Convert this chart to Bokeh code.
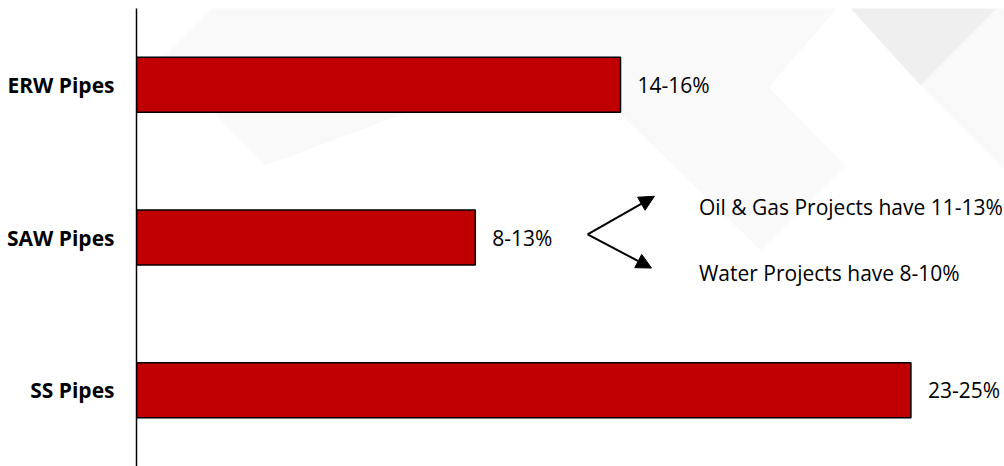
from bokeh.plotting import figure
from bokeh.models import Range1d, FixedTicker, Arrow, NormalHead
from bokeh.core.properties import value
from bokeh.embed import file_html
from bokeh.resources import INLINE

# ---- data ----
categories = ["ERW Pipes", "SAW Pipes", "SS Pipes"]
midpoints = [15.0, 10.5, 24.0]          # bar lengths (midpoint of range, %)
range_labels = ["14-16%", "8-13%", "23-25%"]
saw_split_labels = ["Oil & Gas Projects have 11-13%", "Water Projects have 8-10%"]

positions = [len(categories) - i for i in range(len(categories))]

X_MAX = 26.9
Y_MIN, Y_MAX = 0.5, 3.5
FRAME_LEFT, FRAME_TOP, FRAME_W, FRAME_H = 136, 8, 868, 458


# ---- faint background decoration (page pixels, converted to data units) ----
def px_to_data(pts):
    xs = [(px - FRAME_LEFT) / FRAME_W * X_MAX for px, _ in pts]
    ys = [Y_MAX - (py - FRAME_TOP) / FRAME_H * (Y_MAX - Y_MIN) for _, py in pts]
    return xs, ys


deco_light = [
    [(220, 0), (843, 0), (768, 87), (845, 165), (760, 250), (560, 55), (265, 165), (160, 60)],
    [(920, 85), (1000, 4), (1010, 4), (1010, 175)],
]
deco_dark = [[(843, 0), (1000, 0), (1000, 4), (920, 85)]]

p = figure(width=1004, height=466, output_backend="svg", toolbar_location=None,
           x_range=Range1d(0, X_MAX), y_range=Range1d(Y_MIN, Y_MAX),
           x_axis_location=None,
           min_border_left=FRAME_LEFT, min_border_right=0,
           min_border_top=FRAME_TOP, min_border_bottom=0)
p.outline_line_color = None
p.grid.visible = False
p.background_fill_color = "white"
p.border_fill_color = "white"

lx, ly = zip(*[px_to_data(poly) for poly in deco_light])
p.patches(list(lx), list(ly), fill_color="#f9f9f9", line_color=None)
dx, dy = zip(*[px_to_data(poly) for poly in deco_dark])
p.patches(list(dx), list(dy), fill_color="#efefef", line_color=None)

ax = p.yaxis[0]
ax.ticker = FixedTicker(ticks=positions)
ax.major_label_overrides = {pos: cat for pos, cat in zip(positions, categories)}
ax.major_tick_line_color = None
ax.minor_tick_line_color = None
ax.major_tick_out = 0
ax.major_tick_in = 0
ax.axis_line_color = "black"
ax.axis_line_width = 1.5
ax.major_label_text_font = "Open Sans"
ax.major_label_text_font_style = "bold"
ax.major_label_text_font_size = "21px"
ax.major_label_text_color = "black"
ax.major_label_standoff = 22

p.hbar(y=positions, left=0, right=midpoints, height=0.36,
       fill_color="#c00000", line_color="black", line_width=1.5)

p.text(x=midpoints, y=positions, text=range_labels, x_offset=17,
       text_baseline="middle", text_align="left",
       text_font=value("Open Sans"), text_font_size="21px", text_color="black")

saw_y = positions[categories.index("SAW Pipes")]
vx, vy = 13.98, saw_y + 0.02
for tx, ty in [(16.05, saw_y + 0.27), (15.96, saw_y - 0.20)]:
    p.add_layout(Arrow(end=NormalHead(size=15, fill_color="black", line_color="black", line_width=1),
                       x_start=vx, y_start=vy, x_end=tx, y_end=ty,
                       line_color="black", line_width=2))

p.text(x=[17.43, 17.43], y=[saw_y + 0.20, saw_y - 0.235], text=saw_split_labels,
       text_baseline="middle", text_align="left",
       text_font=value("Open Sans"), text_font_size="21px", text_color="black")

open("out.html", "w").write(file_html(p, INLINE))
